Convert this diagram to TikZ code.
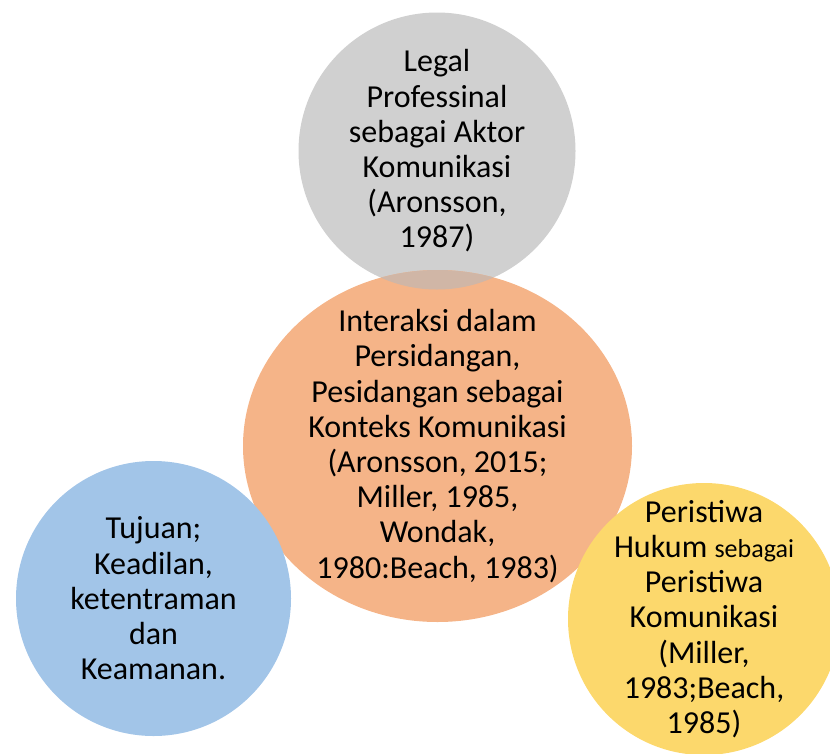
\documentclass[tikz,border=0pt]{standalone}
\usepackage{fontspec}
\setmainfont{Carlito}
\definecolor{softgray}{RGB}{208,208,208}
\definecolor{softorange}{RGB}{245,180,136}
\definecolor{softblue}{RGB}{162,197,232}
\definecolor{softyellow}{RGB}{252,216,108}
\definecolor{overlapgray}{RGB}{208,182,166}
\usetikzlibrary{shapes.geometric}

\begin{document}
\begin{tikzpicture}[x=1pt,y=-1pt,
    bubble/.style={inner sep=0pt},
    bubbletext/.style={inner sep=0pt, align=center,
      font=\fontsize{32}{35.2}\selectfont}]
  % Coordinates
  \coordinate (G) at (437.0, 151.0);
  \coordinate (O) at (437.5, 446.0);
  \coordinate (B) at (153.5, 598.5);
  \coordinate (Y) at (704.0, 619.0);
  \useasboundingbox (0,0) rectangle (830,753);

  % Drawing
  \node[bubble, circle, fill=softgray, minimum size=277pt] (actor) at (G) {};
  \node[bubble, ellipse, fill=softorange, minimum width=389pt, minimum height=352pt] (context) at (O) {};
  \begin{scope}
    \clip (O) ellipse (194.5pt and 176pt);
    \fill[overlapgray] (G) circle (138.5pt);
  \end{scope}
  \node[bubble, circle, fill=softblue, minimum size=275pt] (goal) at (B) {};
  \node[bubble, circle, fill=softyellow, minimum size=272pt] (event) at (Y) {};

  \node[bubbletext] (actortext) at (actor)
    {Legal\\Professinal\\sebagai Aktor\\Komunikasi\\(Aronsson,\\1987)};
  \node[bubbletext] (contexttext) at (context)
    {Interaksi dalam\\Persidangan,\\Pesidangan sebagai\\Konteks Komunikasi\\(Aronsson, 2015;\\Miller, 1985,\\Wondak,\\1980:Beach, 1983)};
  \node[bubbletext] (goaltext) at (goal)
    {Tujuan;\\Keadilan,\\ketentraman\\dan\\Keamanan.};
  \node[bubbletext] (eventtext) at (event)
    {Peristiwa\\Hukum {\fontsize{26}{35.2}\selectfont sebagai}\\Peristiwa\\Komunikasi\\(Miller,\\1983;Beach,\\1985)};
\end{tikzpicture}
\end{document}
